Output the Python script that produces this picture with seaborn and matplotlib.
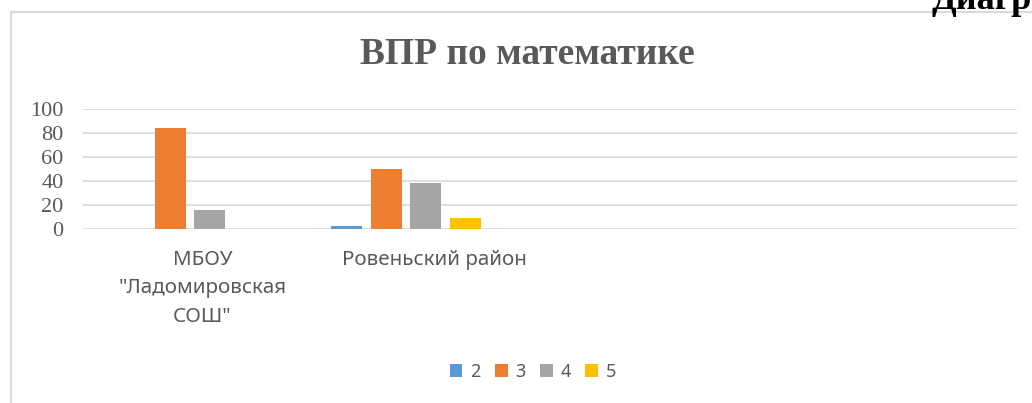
import pandas as pd
import seaborn as sns
import matplotlib.pyplot as plt
from matplotlib.patches import Rectangle
from matplotlib.transforms import ScaledTranslation

# data
schools = ["МБОУ\n\"Ладомировская\nСОШ\"", "Ровеньский район"]
grades = ["2", "3", "4", "5"]
grade2 = [0, 2.5]
grade3 = [84, 50]
grade4 = [16, 38.5]
grade5 = [0, 9]
colors = ["#5B9BD5", "#ED7D31", "#A5A5A5", "#FFC000"]

rows = []
for g, vals in zip(grades, [grade2, grade3, grade4, grade5]):
    for s, v in zip(schools, vals):
        rows.append({"school": s, "grade": g, "value": v})
df = pd.DataFrame(rows)

sns.set_theme(style="white")
plt.rcParams["font.family"] = ["Noto Sans", "DejaVu Sans"]

fig = plt.figure(figsize=(10.32, 4.03), dpi=100)
W, H = 1032, 403
ax = fig.add_axes([83 / W, (H - 229.3) / H, (1017 - 83) / W, 120.3 / H])

sns.barplot(data=df, x="school", y="value", hue="grade", order=schools,
            hue_order=grades, palette=colors, width=0.731, gap=0.215,
            linewidth=0, saturation=1, ax=ax)

ax.set_xlim(-0.495, 3.829)
ax.set_ylim(0, 100)
ax.set_yticks([0, 20, 40, 60, 80, 100])
ax.yaxis.grid(True, color="#d9d9d9", linewidth=1.2)
ax.set_axisbelow(True)
for sp in ax.spines.values():
    sp.set_visible(False)
ax.set_xlabel("")
ax.set_ylabel("")
ax.tick_params(axis="y", length=0, pad=14, labelsize=16, labelcolor="#595959")
ax.tick_params(axis="x", length=0, pad=15, labelsize=14.8, labelcolor="#595959")
for lab in ax.get_yticklabels():
    lab.set_fontfamily("Liberation Serif")
shifts = [12.6, 29]
for lab, dx in zip(ax.get_xticklabels(), shifts):
    lab.set_linespacing(1.55)
    lab.set_transform(lab.get_transform() + ScaledTranslation(dx / 100, 0, fig.dpi_scale_trans))

# legend below
handles = ax.get_legend().legend_handles
ax.get_legend().remove()
fig.legend(handles, grades, loc="center", bbox_to_anchor=(533 / W, (H - 372) / H),
           ncol=4, frameon=False, fontsize=13, labelcolor="#595959",
           handlelength=0.7, handleheight=0.7, handletextpad=0.45,
           columnspacing=0.78)

fig.text(527 / W, (H - 55) / H, "ВПР по математике", ha="center", va="center",
         fontsize=27, fontweight="bold", color="#595959", family="Liberation Serif")

# chart frame and cut-off caption at the top right
fig.patches.append(Rectangle((11 / W, -0.1), 1.2, (H - 12) / H + 0.1,
                             transform=fig.transFigure, fill=False,
                             edgecolor="#d9d9d9", linewidth=1.5))
fig.text(932 / W, (H - 9) / H, "Диаграмма", ha="left", va="baseline",
         fontsize=26, fontweight="bold", color="black", family="Liberation Serif")

fig.savefig("out.png", dpi=100)
